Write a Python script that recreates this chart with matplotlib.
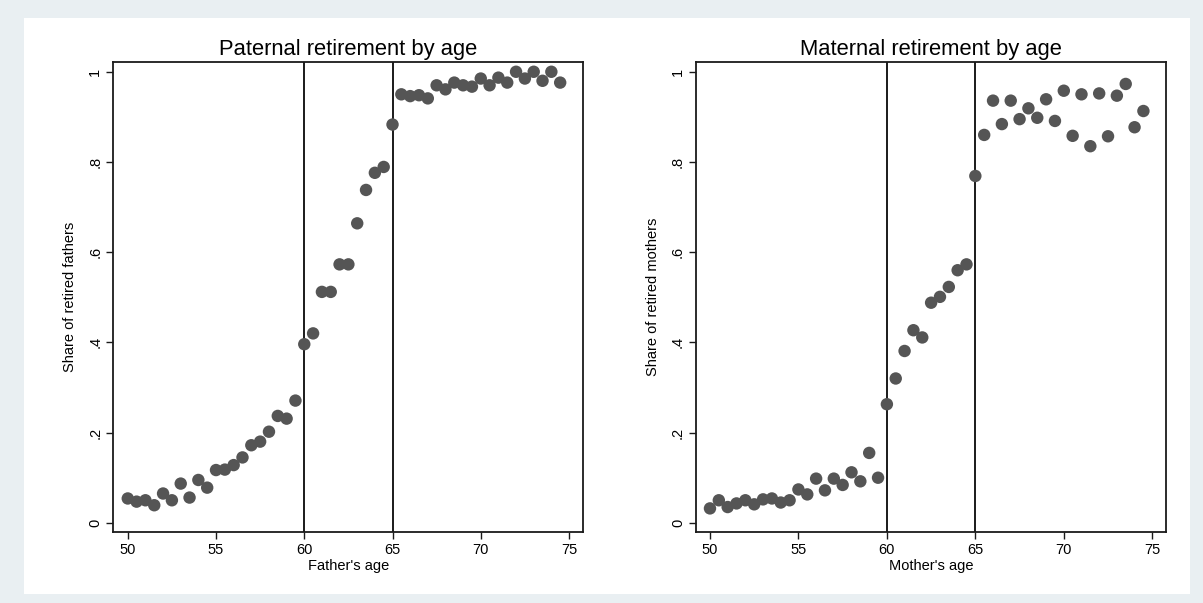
import matplotlib
matplotlib.use("Agg")
import matplotlib.pyplot as plt
from matplotlib.patches import Rectangle
import numpy as np

ages = [50 + 0.5 * i for i in range(50)]

father_share = [0.054, 0.047, 0.050, 0.039, 0.065, 0.050, 0.087, 0.056, 0.095, 0.078,
                0.117, 0.118, 0.128, 0.145, 0.172, 0.180, 0.202, 0.237, 0.231, 0.271,
                0.396, 0.420, 0.512, 0.512, 0.573, 0.573, 0.664, 0.738, 0.776, 0.789,
                0.883, 0.950, 0.946, 0.948, 0.941, 0.970, 0.961, 0.976, 0.970, 0.967,
                0.985, 0.970, 0.987, 0.976, 1.000, 0.985, 1.000, 0.980, 1.000, 0.976]

mother_share = [0.032, 0.050, 0.035, 0.043, 0.050, 0.041, 0.052, 0.054, 0.045, 0.050,
                0.074, 0.063, 0.098, 0.072, 0.098, 0.084, 0.112, 0.092, 0.155, 0.100,
                0.263, 0.320, 0.381, 0.427, 0.411, 0.488, 0.501, 0.523, 0.560, 0.573,
                0.769, 0.860, 0.936, 0.884, 0.936, 0.895, 0.919, 0.898, 0.939, 0.891,
                0.958, 0.858, 0.950, 0.835, 0.952, 0.857, 0.947, 0.973, 0.877, 0.913]

x_ticks = [50, 55, 60, 65, 70, 75]
y_ticks = [0, 0.2, 0.4, 0.6, 0.8, 1.0]
y_tick_labels = ["0", ".2", ".4", ".6", ".8", "1"]
cutoffs = [60, 65]

titles = ["Paternal retirement by age", "Maternal retirement by age"]
xlabels = ["Father's age", "Mother's age"]
ylabels = ["Share of retired fathers", "Share of retired mothers"]

plt.rcParams['font.family'] = ['Liberation Sans', 'DejaVu Sans']

W, H = 1203, 603
fig = plt.figure(figsize=(W / 100, H / 100), dpi=100)
fig.patch.set_facecolor('#E9EFF2')
bg = Rectangle((24 / W, 9 / H), (1190 - 24) / W, (594 - 18) / H,
               transform=fig.transFigure, facecolor='white',
               edgecolor='none', zorder=-10)
fig.add_artist(bg)

positions = [
    [113.3 / W, (H - 532.3) / H, 470 / W, 470 / H],
    [696 / W, (H - 532.3) / H, 469.7 / W, 470 / H],
]
xlims = [(49.18, 75.81), (49.21, 75.76)]
series = [father_share, mother_share]

for i in range(2):
    ax = fig.add_axes(positions[i])
    ax.set_zorder(1)
    ax.set_facecolor('white')
    for c in cutoffs:
        ax.axvline(c, color='#1a1a1a', lw=1.4, zorder=1)
    ax.scatter(ages, series[i], s=80, color='#555555', edgecolors='none', zorder=3)
    ax.set_xlim(*xlims[i])
    ax.set_ylim(-0.021, 1.021)
    ax.set_xticks(x_ticks)
    ax.set_xticklabels([str(t) for t in x_ticks], fontsize=10.5)
    ax.set_yticks(y_ticks)
    ax.set_yticklabels(y_tick_labels, fontsize=10.5, rotation=90, va='center')
    ax.tick_params(direction='out', length=5, width=1, color='#1a1a1a', pad=3)
    for sp in ax.spines.values():
        sp.set_linewidth(1.3)
        sp.set_color('#1a1a1a')
    ax.set_title(titles[i], fontsize=15.8, pad=5)
    ax.set_xlabel(xlabels[i], fontsize=10.5, labelpad=1)
    ax.set_ylabel(ylabels[i], fontsize=10.5, labelpad=8)

fig.savefig('out.png', dpi=100, facecolor=fig.get_facecolor())
